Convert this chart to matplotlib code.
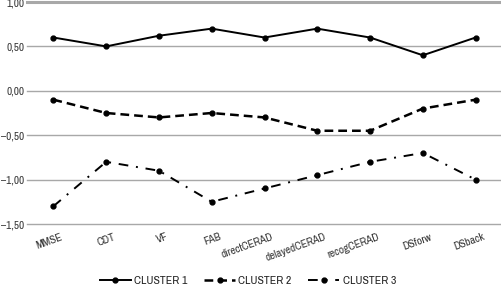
import matplotlib
matplotlib.use("Agg")
import matplotlib.pyplot as plt
from matplotlib import font_manager
import matplotlib.transforms as mtransforms

categories = ["MMSE", "CDT", "VF", "FAB", "directCERAD", "delayedCERAD",
              "recogCERAD", "DSforw", "DSback"]
cluster1 = [0.60, 0.50, 0.62, 0.70, 0.60, 0.70, 0.60, 0.40, 0.60]
cluster2 = [-0.10, -0.25, -0.30, -0.25, -0.30, -0.45, -0.45, -0.20, -0.10]
cluster3 = [-1.30, -0.80, -0.90, -1.25, -1.10, -0.95, -0.80, -0.70, -1.00]
yticks = [-1.5, -1.0, -0.5, 0.0, 0.5, 1.0]
ytick_labels = ["\u20131,50", "\u20131,00", "\u20130,50", "0,00", "0,50", "1,00"]

names = set(f.name for f in font_manager.fontManager.ttflist)
fam = "Liberation Sans Narrow" if "Liberation Sans Narrow" in names else "Archivo Narrow"
plt.rcParams['font.family'] = [fam, 'DejaVu Sans']

fig = plt.figure(figsize=(5.02, 2.93), dpi=100)
ax = fig.add_axes([27/502, 1-224/293, 1-27/502, (224-2)/293])
x = list(range(len(categories)))
ax.plot(x, cluster1, color='black', lw=1.4, ls='-', marker='o', ms=3.5, label='CLUSTER 1', zorder=3)
ax.plot(x, cluster2, color='black', lw=1.8, ls=(0, (3.5, 2)), marker='o', ms=3.5, label='CLUSTER 2', zorder=3)
ax.plot(x, cluster3, color='black', lw=1.4, ls=(0, (5, 4, 1, 4)), marker='o', ms=3.5, label='CLUSTER 3', zorder=3)

ax.set_xlim(-0.5, len(categories) - 0.5)
ax.set_ylim(-1.5, 1.0)
ax.set_yticks(yticks)
ax.set_yticklabels(ytick_labels, fontsize=8, color='#333333')
for yv in yticks:
    ax.axhline(yv, color='#a8a8a8', lw=2.2 if yv == 1.0 else 1.0, zorder=1, clip_on=False)
for s in ax.spines.values():
    s.set_visible(False)
ax.tick_params(axis='both', length=0, pad=2)
ax.set_xticks(x)
ax.set_xticklabels(categories, fontsize=8, color='#333333', rotation=20,
                   ha='right', rotation_mode='anchor')
offset = mtransforms.ScaledTranslation(7/100, -5/100, fig.dpi_scale_trans)
for lbl in ax.get_xticklabels():
    lbl.set_transform(lbl.get_transform() + offset)

leg = fig.legend(loc='center', bbox_to_anchor=(248/502, 1-281/293), ncol=3, frameon=False,
                 fontsize=8.5, handlelength=2.6, columnspacing=1.4, handletextpad=0.3)
for t in leg.get_texts():
    t.set_color('#222222')

fig.savefig("out.png", dpi=100)
